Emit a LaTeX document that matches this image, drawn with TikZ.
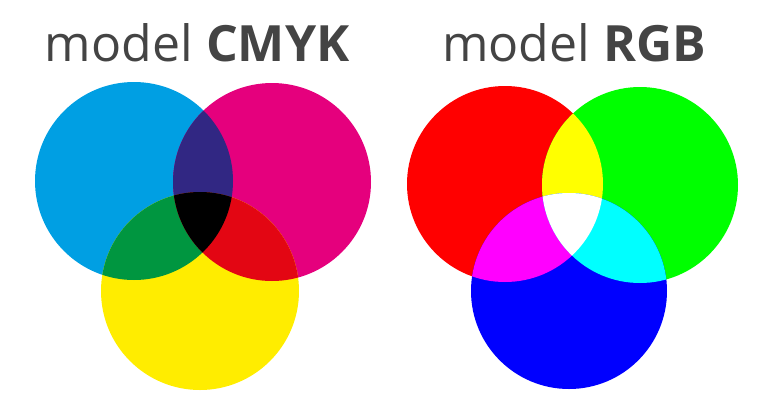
\documentclass[tikz,border=0pt]{standalone}
\usepackage{fontspec}
\setmainfont{Open Sans}
\definecolor{titlegray}{HTML}{444444}
\definecolor{cmykC}{HTML}{009FE3}
\definecolor{cmykM}{HTML}{E5007D}
\definecolor{cmykY}{HTML}{FFED00}
\definecolor{cmykCM}{HTML}{312783}
\definecolor{cmykCY}{HTML}{009640}
\definecolor{cmykMY}{HTML}{E30613}
\definecolor{rgbR}{HTML}{FF0000}
\definecolor{rgbG}{HTML}{00FF00}
\definecolor{rgbB}{HTML}{0000FF}
\definecolor{rgbY}{HTML}{FFFF00}
\definecolor{rgbM}{HTML}{FF00FF}
\definecolor{rgbC}{HTML}{00FFFF}
\definecolor{rgbW}{HTML}{FFFFFF}
\begin{document}
\begin{tikzpicture}[x=1pt,y=-1pt,
  title/.style={inner sep=0pt,outer sep=0pt,text=titlegray,font=\fontsize{50}{50}\selectfont,anchor=base west}]
\useasboundingbox (0,0) rectangle (780,400);
% CMYK
\def\rr{99}
\coordinate (c) at (134,181);
\coordinate (m) at (272,182);
\coordinate (y) at (200,291);
\fill[cmykC] (c) circle (\rr);
\fill[cmykM] (m) circle (\rr);
\fill[cmykY] (y) circle (\rr);
\begin{scope}\clip (c) circle (\rr); \fill[cmykCM] (m) circle (\rr);\end{scope}
\begin{scope}\clip (c) circle (\rr); \fill[cmykCY] (y) circle (\rr);\end{scope}
\begin{scope}\clip (m) circle (\rr); \fill[cmykMY] (y) circle (\rr);\end{scope}
\begin{scope}\clip (c) circle (\rr); \clip (m) circle (\rr); \fill[black] (y) circle (\rr);\end{scope}
% RGB
\def\rg{98}
\coordinate (r) at (505,184);
\coordinate (g) at (640,185);
\coordinate (b) at (569,291);
\fill[rgbR] (r) circle (\rg);
\fill[rgbG] (g) circle (\rg);
\fill[rgbB] (b) circle (\rg);
\begin{scope}\clip (r) circle (\rg); \fill[rgbY] (g) circle (\rg);\end{scope}
\begin{scope}\clip (r) circle (\rg); \fill[rgbM] (b) circle (\rg);\end{scope}
\begin{scope}\clip (g) circle (\rg); \fill[rgbC] (b) circle (\rg);\end{scope}
\begin{scope}\clip (r) circle (\rg); \clip (g) circle (\rg); \fill[rgbW] (b) circle (\rg);\end{scope}
% titles
\node[title] (t1) at (45,61) {model \textbf{CMYK}};
\node[title] (t2) at (442,61) {model \textbf{RGB}};
\end{tikzpicture}
\end{document}
